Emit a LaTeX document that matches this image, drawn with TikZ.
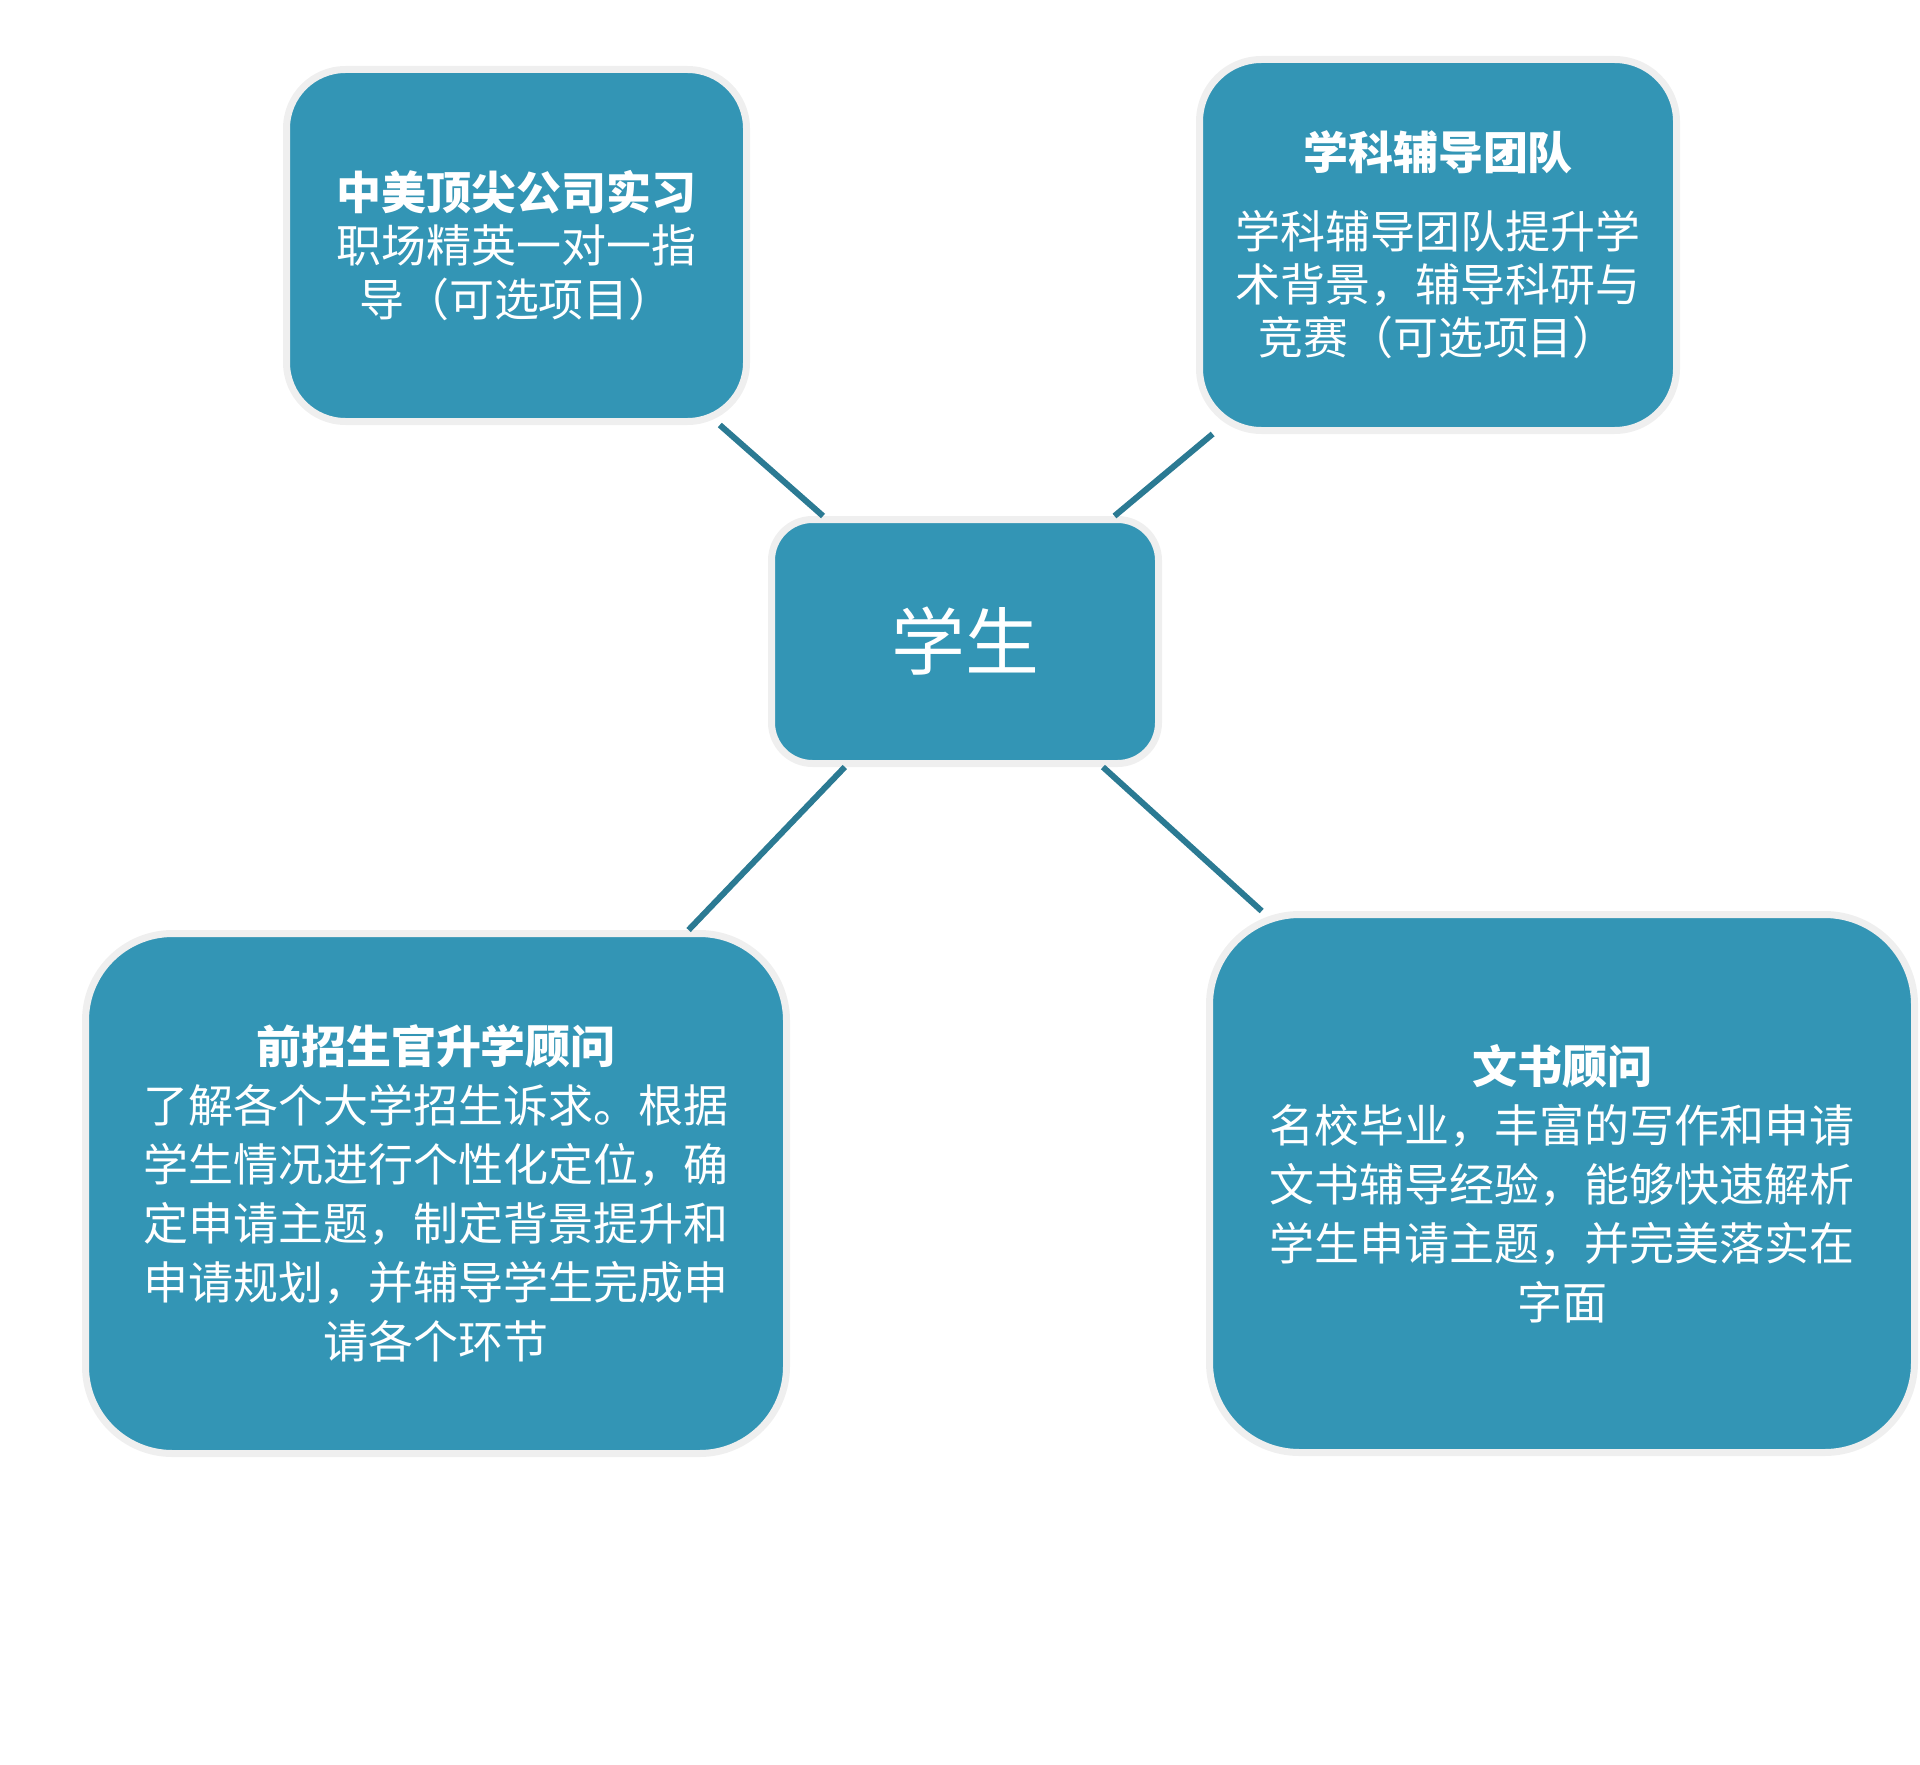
\documentclass[tikz,border=0pt]{standalone}
\usepackage{fontspec}
\newfontfamily\cjk{Noto Sans CJK SC}
\usepackage{xcolor}
\definecolor{BoxFill}{HTML}{3395B5}
\definecolor{BoxRim}{HTML}{EFEFEF}
\definecolor{LinkTeal}{HTML}{2B7A93}

\begin{document}
\begin{tikzpicture}[
   box/.style={draw=BoxRim, line width=0.07cm, fill=BoxFill, text=white,
               align=center, inner sep=0pt},
   tight/.style={font=\cjk\fontsize{12.8pt}{15.1pt}\selectfont},
   loose/.style={font=\cjk\fontsize{12.8pt}{16.8pt}\selectfont},
   link/.style={draw=LinkTeal, line width=0.06cm}]
  \useasboundingbox (0,0) rectangle (19.2,-17.64);
  \node[box, tight, rounded corners=0.59cm, minimum width=4.60cm, minimum height=3.52cm]
    (intern) at (5.165,-2.455) {\textbf{中美顶尖公司实习}\\职场精英一对一指\\导（可选项目）};
  \node[box, tight, rounded corners=0.62cm, minimum width=4.77cm, minimum height=3.71cm]
    (tutor) at (14.38,-2.45) {\textbf{学科辅导团队}\\[0.26cm]学科辅导团队提升学\\术背景，辅导科研与\\竞赛（可选项目）};
  \node[box, rounded corners=0.41cm, minimum width=3.87cm, minimum height=2.44cm,
        font=\cjk\fontsize{21pt}{25pt}\selectfont]
    (student) at (9.65,-6.415) {学生};
  \node[box, loose, rounded corners=0.87cm, minimum width=7.01cm, minimum height=5.20cm]
    (officer) at (4.36,-11.935) {\textbf{前招生官升学顾问}\\了解各个大学招生诉求。根据\\学生情况进行个性化定位，确\\定申请主题，制定背景提升和\\申请规划，并辅导学生完成申\\请各个环节};
  \node[box, loose, rounded corners=0.90cm, minimum width=7.05cm, minimum height=5.38cm]
    (essay) at (15.62,-11.835) {\textbf{文书顾问}\\名校毕业，丰富的写作和申请\\文书辅导经验，能够快速解析\\学生申请主题，并完美落实在\\字面};
  % connectors, centre to centre
  \draw[link] (intern) -- (student);
  \draw[link] (tutor) -- (student);
  \draw[link] (officer) -- (student);
  \draw[link] (essay) -- (student);
\end{tikzpicture}
\end{document}
